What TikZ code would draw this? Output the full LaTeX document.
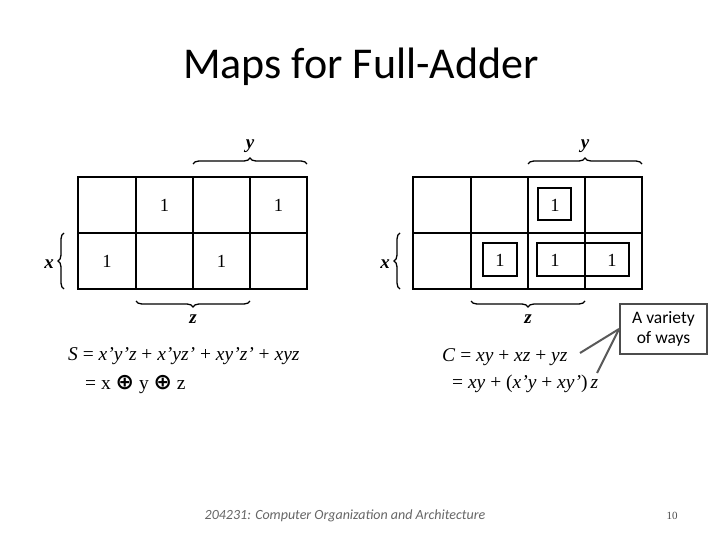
\documentclass[tikz,border=0pt]{standalone}
\usepackage{fontspec}
\setmainfont{Liberation Serif}
\newfontfamily\calfont{Carlito}
\newfontfamily\symfont{DejaVu Sans}
\usetikzlibrary{decorations.pathreplacing}
\begin{document}
\begin{tikzpicture}[x=1pt,y=-1pt,
  gridline/.style={line width=2.2pt},
  one/.style={font=\fontsize{18.5}{18}\selectfont},
  lbl/.style={font=\bfseries\itshape\fontsize{19}{19}\selectfont},
  brc/.style={decorate, decoration={brace, amplitude=6pt}, line width=1.3pt},
  eq/.style={font=\fontsize{19.5}{22}\selectfont, anchor=west, inner sep=0pt},
  grp/.style={line width=1.3pt},
  callout/.style={draw=black!70, line width=2pt, font=\calfont\fontsize{17.5}{20}\selectfont, align=center, minimum width=87pt, minimum height=50pt, inner sep=2pt},
  lead/.style={draw=black!65, line width=2pt}]
\useasboundingbox[fill=white] (0,0) rectangle (720,540);
% title
\node[font=\calfont\fontsize{44}{48}\selectfont] (title) at (361,67) {Maps for Full-Adder};
% left map
\draw[gridline] (78,177) rectangle (307,289);
\foreach \c in {136,193,250} \draw[gridline] (\c,177) -- (\c,289);
\draw[gridline] (78,233) -- (307,233);
\node[one] (l12) at (164.5,205) {1};
\node[one] (l14) at (278.5,205) {1};
\node[one] (l21) at (107,261) {1};
\node[one] (l23) at (221.5,261) {1};
\draw[brc] (193,164) -- (307,164);
\draw[brc] (250,301) -- (136,301);
\draw[brc] (64,289) -- (64,233);
\node[lbl] (ly) at (250,146) {y};
\node[lbl] (lz) at (193,319) {z};
\node[lbl] (lx) at (49,264) {x};
% right map
\draw[gridline] (413,177) rectangle (642,289);
\foreach \c in {471,528,585} \draw[gridline] (\c,177) -- (\c,289);
\draw[gridline] (413,233) -- (642,233);
\node[one] (r13) at (555,205) {1};
\node[one] (r22) at (500,260) {1};
\node[one] (r23) at (555,260) {1};
\node[one] (r24) at (612,260) {1};
\draw[grp] (538,188) rectangle (571,220);
\draw[grp] (483,243) rectangle (517,276);
\draw[grp] (537,243) rectangle (629,276);
\draw[brc] (528,164) -- (642,164);
\draw[brc] (585,301) -- (471,301);
\draw[brc] (400,289) -- (400,233);
\node[lbl] (ry) at (585,146) {y};
\node[lbl] (rz) at (528,319) {z};
\node[lbl] (rx) at (385,264) {x};
% equations
\node[eq] (s1) at (68,356) {\textit{S} = \textit{x'y'z} + \textit{x'yz'} + \textit{xy'z'} + \textit{xyz}};
\node[eq] (s2) at (85,385) {= x {\symfont\bfseries\fontsize{22}{22}\selectfont ⊕} y {\symfont\bfseries\fontsize{22}{22}\selectfont ⊕} z};
\node[eq] (c1) at (442,357) {\textit{C} = \textit{xy} + \textit{xz} + \textit{yz}};
\node[eq] (c2) at (452,384) {= \textit{xy} + (\textit{x'y} + \textit{xy'})\,\textit{z}};
% callout
\node[callout] (call) at (663.5,329) {A variety\\of ways};
\coordinate (e1) at (580,353);
\coordinate (e2) at (597,373);
\draw[lead] (call.west) -- (e1);
\draw[lead] (call.west) -- (e2);
% footer
\node[font=\calfont\itshape\fontsize{14}{16}\selectfont, text=black!60] (foot) at (345,516) {204231: Computer Organization and Architecture};
\node[font=\fontsize{11}{12}\selectfont, text=black!70] (page) at (672,516) {10};
\end{tikzpicture}
\end{document}
